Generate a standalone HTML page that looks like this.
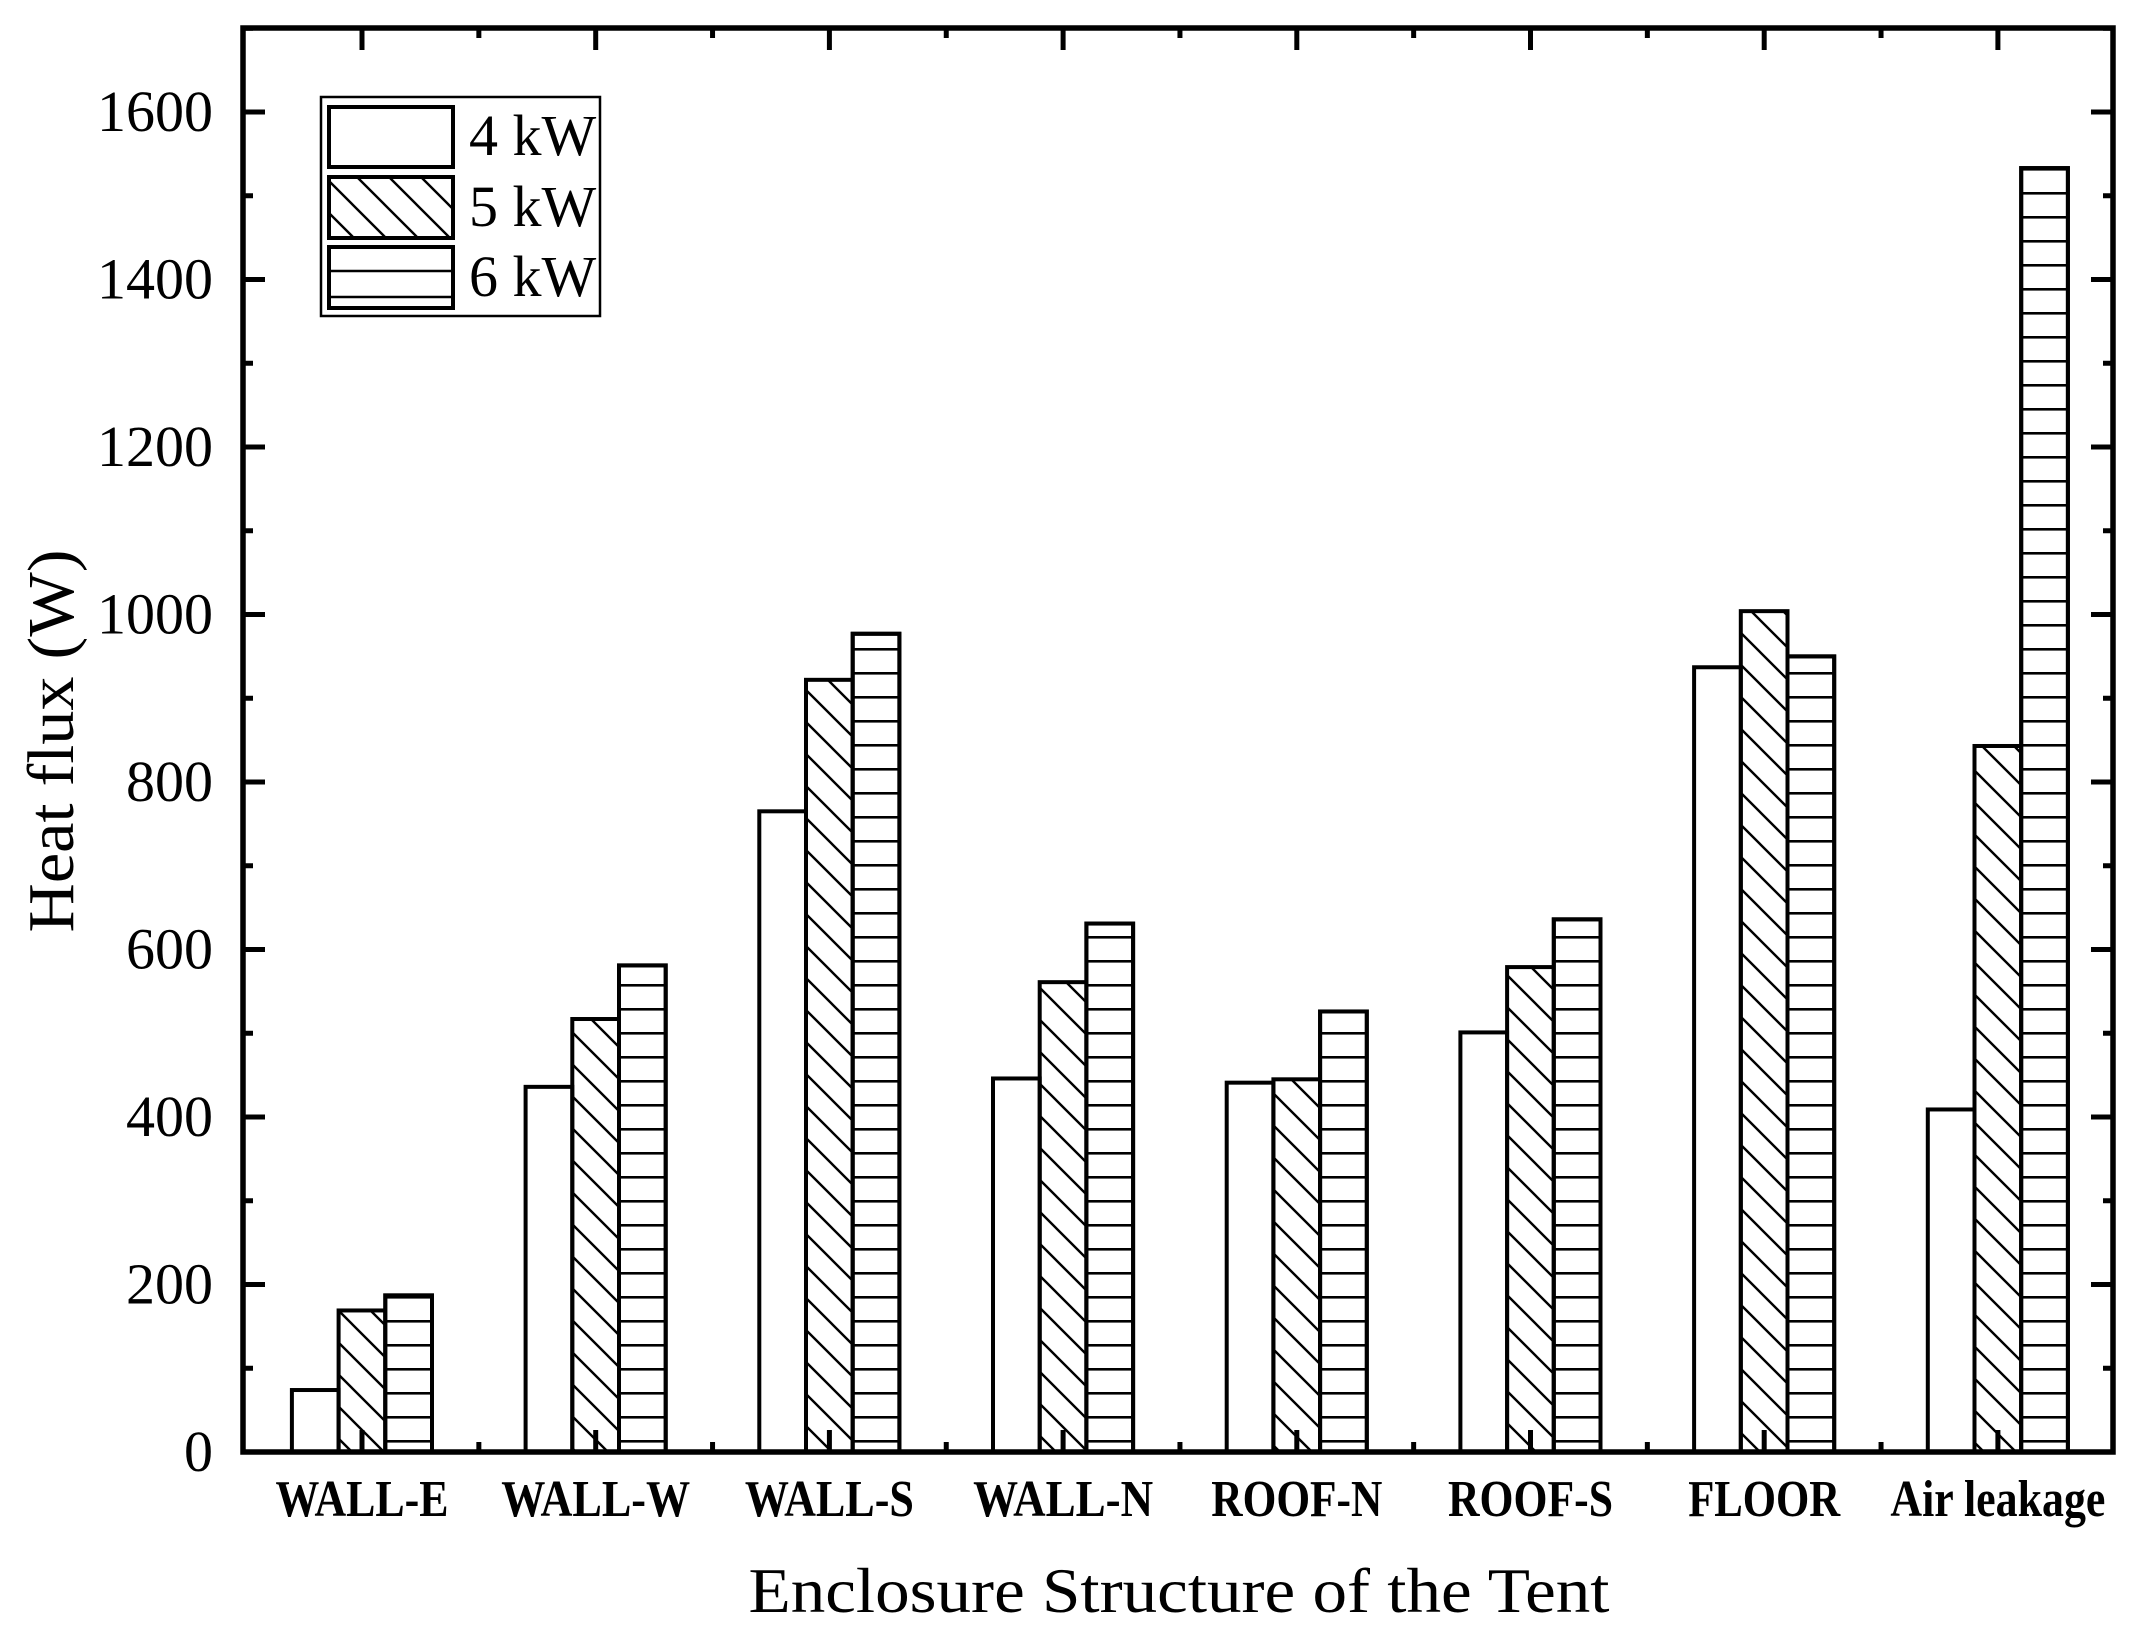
<!DOCTYPE html>
<html><head><meta charset="utf-8"><style>html,body{margin:0;padding:0;background:#fff}svg{display:block}</style></head>
<body>
<svg width="2133" height="1645" viewBox="0 0 2133 1645" xmlns="http://www.w3.org/2000/svg" font-family="'Liberation Serif', serif">
<defs>
<pattern id="diag" patternUnits="userSpaceOnUse" width="32" height="32" x="0" y="1452">
<path d="M-8,-8 L40,40 M-8,24 L8,40 M24,-8 L40,8" stroke="#000" stroke-width="2.4"/>
</pattern>
<pattern id="horz" patternUnits="userSpaceOnUse" width="40" height="24" x="0" y="1429">
<rect x="0" y="11" width="40" height="2.6" fill="#000"/>
</pattern>
</defs>
<rect width="2133" height="1645" fill="#fff"/>
<g id="bars" stroke="#000" stroke-width="4"></g>
<g id="ticks" stroke="#000" stroke-width="5"></g>
<rect x="243" y="28" width="1870" height="1424" fill="none" stroke="#000" stroke-width="5.5"/>
<g id="ylab" font-size="58" text-anchor="end"></g>
<g id="xlab" font-size="52" font-weight="bold" text-anchor="middle"></g>
<text x="73" y="741" font-size="66" text-anchor="middle" transform="rotate(-90 73 741)" textLength="383" lengthAdjust="spacingAndGlyphs">Heat flux (W)</text>
<text x="1179" y="1612" font-size="64" text-anchor="middle" textLength="861" lengthAdjust="spacingAndGlyphs">Enclosure Structure of the Tent</text>
<rect x="321" y="97" width="279" height="219" fill="#fff" stroke="#000" stroke-width="2.5"/>
<rect x="329" y="107" width="124" height="60" fill="#fff" stroke="#000" stroke-width="4"/>
<rect x="329" y="177" width="124" height="61" fill="url(#diag)" stroke="#000" stroke-width="4"/>
<rect x="329" y="247" width="124" height="61" fill="#fff" stroke="#000" stroke-width="4"/>
<line x1="329" y1="271" x2="453" y2="271" stroke="#000" stroke-width="2.6"/>
<line x1="329" y1="297" x2="453" y2="297" stroke="#000" stroke-width="2.6"/>
<g font-size="58"><text x="469" y="155">4 kW</text><text x="469" y="226">5 kW</text><text x="469" y="296">6 kW</text></g>
</svg>
<script>
var NS="http://www.w3.org/2000/svg";
function el(p,t,a,txt){var e=document.createElementNS(NS,t);for(var k in a)e.setAttribute(k,a[k]);if(txt!==undefined)e.textContent=txt;p.appendChild(e);return e;}
var y0=1452,s=0.8375;function Y(v){return y0-v*s;}
var data=[[74,169,187],[436,517,581],[765,922,977],[446,561,631],[441,445,526],[501,579,636],[937,1004,950],[409,843,1533]];
var names=["WALL-E","WALL-W","WALL-S","WALL-N","ROOF-N","ROOF-S","FLOOR","Air leakage"];
var lens=[173,189,169,180,171,165,152,215];
var fills=["#fff","url(#diag)","#fff"];
var bars=document.getElementById("bars");
for(var i=0;i<8;i++){var c=362+i*233.7;
 for(var j=0;j<3;j++){var x=c-70.1+j*46.7,h=data[i][j]*s;
  el(bars,"rect",{x:x,y:y0-h,width:46.7,height:h,fill:fills[j]});
  if(j==2){el(bars,"rect",{x:x,y:y0-h,width:46.7,height:h,fill:"url(#horz)",stroke:"none"});el(bars,"rect",{x:x,y:y0-h,width:46.7,height:h,fill:"none"});}
 }
 el(document.getElementById("xlab"),"text",{x:c,y:1516,textLength:lens[i],lengthAdjust:"spacingAndGlyphs"},names[i]);
}
var tk=document.getElementById("ticks");
for(var v=0;v<=1700;v+=100){var y=Y(v),L=(v%200==0)?22:10;
 el(tk,"line",{x1:243,y1:y,x2:243+L,y2:y});el(tk,"line",{x1:2113,y1:y,x2:2113-L,y2:y});
 if(v%200==0)el(document.getElementById("ylab"),"text",{x:213,y:y+19},String(v));}
for(var k=0;k<16;k++){var x=362+k*116.85;if(x>2110)break;var L=(k%2==0)?22:10;
 el(tk,"line",{x1:x,y1:28,x2:x,y2:28+L});el(tk,"line",{x1:x,y1:y0,x2:x,y2:y0-L});}
</script>
</body></html>
